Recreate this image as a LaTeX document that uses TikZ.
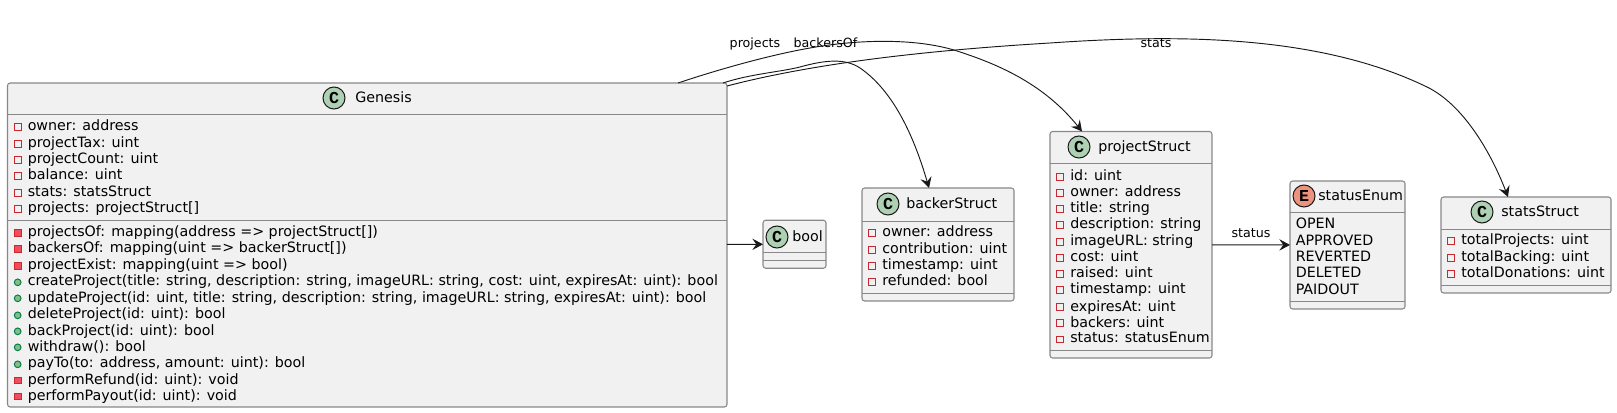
\documentclass[tikz,border=0pt]{standalone}
\usepackage{fontspec}
\usepackage{tikz}
\usetikzlibrary{arrows.meta}
\setmainfont{DejaVu Sans}
\newfontfamily\glyphfont{Liberation Mono}
\definecolor{boxfill}{HTML}{F1F1F1}
\definecolor{boxline}{HTML}{888888}
\definecolor{inkline}{HTML}{181818}
\definecolor{classgreen}{HTML}{ADD1B2}
\definecolor{enumred}{HTML}{EB937F}
\definecolor{privline}{HTML}{C82930}
\definecolor{privfill}{HTML}{F24D5C}
\definecolor{publine}{HTML}{038048}
\definecolor{pubfill}{HTML}{84BE84}
\tikzset{
  umlbox/.style={draw=boxline, fill=boxfill, line width=0.8pt, rounded corners=2pt, inner sep=0pt, outer sep=0pt},
  divider/.style={draw=boxline, line width=0.7pt},
  headcirc/.style={circle, draw=inkline, line width=0.75pt, minimum size=16.5pt, inner sep=0pt, font=\glyphfont\bfseries\fontsize{12.5}{12.5}\selectfont},
  titletext/.style={anchor=base west, inner sep=0pt, font=\fontsize{10.7}{12}\selectfont, text=black},
  rowtext/.style={anchor=base west, inner sep=0pt, text height=8pt, text depth=2.5pt, font=\fontsize{10.7}{12}\selectfont, text=black},
  linktext/.style={anchor=base, inner sep=0pt, font=\fontsize{9.5}{11}\selectfont, text=black},
  attrmark/.style={rectangle, draw=privline, line width=0.75pt, minimum size=5pt, inner sep=0pt},
  privmark/.style={rectangle, draw=privline, fill=privfill, line width=0.75pt, minimum size=5pt, inner sep=0pt},
  pubmark/.style={circle, draw=publine, fill=pubfill, line width=0.75pt, minimum size=5pt, inner sep=0pt},
  attrrow/.style={rowtext, label={[attrmark, label distance=4.5pt]left:}},
  privrow/.style={rowtext, label={[privmark, label distance=4.5pt]left:}},
  pubrow/.style={rowtext, label={[pubmark, label distance=4.5pt]left:}},
  link/.style={draw=inkline, line width=0.7pt, -{Stealth[length=8pt, width=8.5pt, inset=3pt]}}
}
\begin{document}
\begin{tikzpicture}[x=0.75pt, y=-0.75pt]
\useasboundingbox (0,0) rectangle (1617,413);
% draws boxes
\node[umlbox, minimum width=539.6pt, minimum height=243pt] (genesis) at (367.25,245) {};
\node[umlbox, minimum width=47.25pt, minimum height=36pt] (boolbox) at (794.5,244.25) {};
\node[umlbox, minimum width=114pt, minimum height=84.75pt] (backerbox) at (938,244.5) {};
\node[umlbox, minimum width=121.5pt, minimum height=169.9pt] (projectbox) at (1131,244.75) {};
\node[umlbox, minimum width=86.25pt, minimum height=96pt] (statusbox) at (1347.5,245) {};
\node[umlbox, minimum width=127.5pt, minimum height=72pt] (statsbox) at (1526,245) {};
% draws dividers
\draw[divider] (genesis.west |- 0,114) -- (genesis.east |- 0,114);
\draw[divider] (genesis.west |- 0,220) -- (genesis.east |- 0,220);
\draw[divider] (boolbox.west |- 0,252) -- (boolbox.east |- 0,252);
\draw[divider] (boolbox.west |- 0,260) -- (boolbox.east |- 0,260);
\draw[divider] (backerbox.west |- 0,221) -- (backerbox.east |- 0,221);
\draw[divider] (backerbox.west |- 0,293) -- (backerbox.east |- 0,293);
\draw[divider] (projectbox.west |- 0,163) -- (projectbox.east |- 0,163);
\draw[divider] (projectbox.west |- 0,350) -- (projectbox.east |- 0,350);
\draw[divider] (statusbox.west |- 0,212) -- (statusbox.east |- 0,212);
\draw[divider] (statusbox.west |- 0,301) -- (statusbox.east |- 0,301);
\draw[divider] (statsbox.west |- 0,229) -- (statsbox.east |- 0,229);
\draw[divider] (statsbox.west |- 0,285) -- (statsbox.east |- 0,285);
% draws header circles and titles
\node[headcirc, fill=classgreen] (genesiscirc) at (334,98) {C};
\node[titletext] (genesistitle) at (355,103) {Genesis};
\node[headcirc, fill=classgreen] (boolcirc) at (777,237) {C};
\node[titletext] (booltitle) at (792,242) {bool};
\node[headcirc, fill=classgreen] (backercirc) at (888,204) {C};
\node[titletext] (backertitle) at (906,209) {backerStruct};
\node[headcirc, fill=classgreen] (projectcirc) at (1079,147) {C};
\node[titletext] (projecttitle) at (1098,152) {projectStruct};
\node[headcirc, fill=enumred] (statuscirc) at (1304,196) {E};
\node[titletext] (statustitle) at (1318,201) {statusEnum};
\node[headcirc, fill=classgreen] (statscirc) at (1482,212) {C};
\node[titletext] (statstitle) at (1501,217) {statsStruct};
% Genesis attributes
\node[attrrow] (gowner) at (27.5,131) {owner: address};
\node[attrrow] (gtax) at (27.5,148) {projectTax: uint};
\node[attrrow] (gcount) at (27.5,164) {projectCount: uint};
\node[attrrow] (gbalance) at (27.5,180) {balance: uint};
\node[attrrow] (gstats) at (27.5,197) {stats: statsStruct};
\node[attrrow] (gprojects) at (27.5,213) {projects: projectStruct[]};
% Genesis methods
\node[privrow] (mprojectsof) at (27.5,237) {projectsOf: mapping(address => projectStruct[])};
\node[privrow] (mbackersof) at (27.5,253) {backersOf: mapping(uint => backerStruct[])};
\node[privrow] (mexist) at (27.5,270) {projectExist: mapping(uint => bool)};
\node[pubrow] (mcreate) at (27.5,286) {createProject(title: string, description: string, imageURL: string, cost: uint, expiresAt: uint): bool};
\node[pubrow] (mupdate) at (27.5,302) {updateProject(id: uint, title: string, description: string, imageURL: string, expiresAt: uint): bool};
\node[pubrow] (mdelete) at (27.5,319) {deleteProject(id: uint): bool};
\node[pubrow] (mback) at (27.5,335) {backProject(id: uint): bool};
\node[pubrow] (mwithdraw) at (27.5,351) {withdraw(): bool};
\node[pubrow] (mpay) at (27.5,368) {payTo(to: address, amount: uint): bool};
\node[privrow] (mrefund) at (27.5,384) {performRefund(id: uint): void};
\node[privrow] (mpayout) at (27.5,400) {performPayout(id: uint): void};
% backerStruct attributes
\node[attrrow] (bowner) at (882,237) {owner: address};
\node[attrrow] (bcontrib) at (882,254) {contribution: uint};
\node[attrrow] (btime) at (882,270) {timestamp: uint};
\node[attrrow] (brefund) at (882,286) {refunded: bool};
% projectStruct attributes
\node[attrrow] (pid) at (1070,181) {id: uint};
\node[attrrow] (powner) at (1070,197) {owner: address};
\node[attrrow] (ptitle) at (1070,213) {title: string};
\node[attrrow] (pdesc) at (1070,229) {description: string};
\node[attrrow] (pimage) at (1070,246) {imageURL: string};
\node[attrrow] (pcost) at (1070,262) {cost: uint};
\node[attrrow] (praised) at (1070,278) {raised: uint};
\node[attrrow] (ptime) at (1070,294) {timestamp: uint};
\node[attrrow] (pexpires) at (1070,311) {expiresAt: uint};
\node[attrrow] (pbackers) at (1070,327) {backers: uint};
\node[attrrow] (pstatus) at (1070,343) {status: statusEnum};
% statusEnum values
\node[rowtext] (eopen) at (1295.5,229) {OPEN};
\node[rowtext] (eapproved) at (1295.5,246) {APPROVED};
\node[rowtext] (ereverted) at (1295.5,262) {REVERTED};
\node[rowtext] (edeleted) at (1295.5,278) {DELETED};
\node[rowtext] (epaidout) at (1295.5,295) {PAIDOUT};
% statsStruct attributes
\node[attrrow] (sprojects) at (1461,245) {totalProjects: uint};
\node[attrrow] (sbacking) at (1461,262) {totalBacking: uint};
\node[attrrow] (sdonations) at (1461,278) {totalDonations: uint};
% draws connectors
\draw[link] (678,0 |- genesis.north) .. controls (720,69) and (770,55) .. (810,48) .. controls (860,39) and (920,38) .. (960,52) .. controls (1000,65) and (1045,85) .. (1082,0 |- projectbox.north);
\draw[link] (723,0 |- genesis.north) .. controls (750,74) and (780,72) .. (800,67) .. controls (825,60) and (845,58) .. (860,68) .. controls (895,92) and (915,140) .. (929,0 |- backerbox.north);
\draw[link] (genesis.east |- 0,86) .. controls (800,67) and (900,52) .. (1050,43) .. controls (1180,34) and (1320,35) .. (1427,87) .. controls (1462,104) and (1490,150) .. (1508,0 |- statsbox.north);
\draw[link] (genesis) -- (boolbox);
\draw[link] (projectbox) -- (statusbox);
% labels connectors
\node[linktext] (projectslabel) at (755,48) {projects};
\node[linktext] (backerslabel) at (825.5,48) {backersOf};
\node[linktext] (statslabel) at (1156,48) {stats};
\node[linktext] (statuslabel) at (1251,238) {status};
\end{tikzpicture}
\end{document}
